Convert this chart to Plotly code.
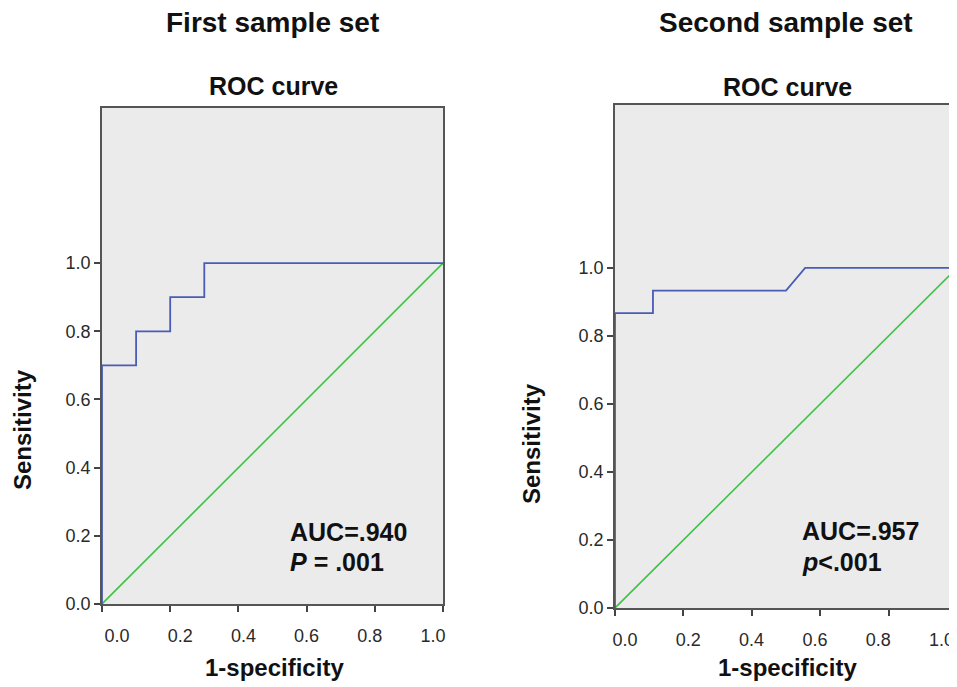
import plotly.graph_objects as go

# ---- data ----
fpr1 = [0.0, 0.0, 0.1, 0.1, 0.2, 0.2, 0.3, 0.3, 1.0]
tpr1 = [0.0, 0.7, 0.7, 0.8, 0.8, 0.9, 0.9, 1.0, 1.0]
fpr2 = [0.0, 0.0, 0.111, 0.111, 0.5, 0.556, 1.0]
tpr2 = [0.0, 0.867, 0.867, 0.933, 0.933, 1.0, 1.0]
ref_line = [0.0, 1.0]
tick_vals = [0.0, 0.2, 0.4, 0.6, 0.8, 1.0]
tick_text = ["0.0", "0.2", "0.4", "0.6", "0.8", "1.0"]
panel_titles = ["First sample set", "Second sample set"]
auc_text = ["AUC=.940", "AUC=.957"]
p_text = ["<i>P</i> = .001", "<i>p</i>&lt;.001"]

OFF = 8  # page body margin
W, H = 957 - 2 * OFF, 687
BLUE = "#4a5cb6"
GREEN = "#3fc246"
FONT = "Liberation Sans, Arial, sans-serif"

def px(x):
    return min(1.0, (x - OFF) / W)

def py(y):
    return 1 - (y - OFF) / H

fig = go.Figure()
fig.add_trace(go.Scatter(x=ref_line, y=ref_line, mode="lines",
                         line=dict(color=GREEN, width=1.6), xaxis="x", yaxis="y", hoverinfo="skip"))
fig.add_trace(go.Scatter(x=fpr1, y=tpr1, mode="lines",
                         line=dict(color=BLUE, width=1.8), xaxis="x", yaxis="y"))
fig.add_trace(go.Scatter(x=ref_line, y=ref_line, mode="lines",
                         line=dict(color=GREEN, width=1.6), xaxis="x2", yaxis="y2", hoverinfo="skip"))
fig.add_trace(go.Scatter(x=fpr2, y=tpr2, mode="lines",
                         line=dict(color=BLUE, width=1.8), xaxis="x2", yaxis="y2"))
# invisible carriers for the tick-label axes
fig.add_trace(go.Scatter(x=tick_vals, y=[0] * len(tick_vals), mode="markers", opacity=0,
                         xaxis="x3", yaxis="y", hoverinfo="skip"))
fig.add_trace(go.Scatter(x=tick_vals, y=[0] * len(tick_vals), mode="markers", opacity=0,
                         xaxis="x4", yaxis="y2", hoverinfo="skip"))

tickfont = dict(family=FONT, size=18, color="#2a2a2a")
axis_common = dict(showgrid=False, zeroline=False, showline=True, linecolor="#555555",
                   linewidth=1.5, mirror=True, ticks="outside", ticklen=6, tickwidth=1.5,
                   tickcolor="#444444", tickvals=tick_vals, ticktext=tick_text, automargin=False,
                   tickfont=tickfont, fixedrange=True)
xtick_only = dict(axis_common, showticklabels=False)
label_axis = dict(showgrid=False, zeroline=False, showline=False, ticks="",
                  tickvals=tick_vals, ticktext=tick_text, automargin=False, tickfont=tickfont,
                  fixedrange=True, ticklabelstandoff=19, ticklabeloverflow="allow", side="bottom")

# right panel runs past the window edge: x = 1.0 would sit at 957 px
r_left, r_right_vis, r_one = 615, 949, 957
r_span = (r_right_vis - r_left) / (r_one - r_left)

fig.update_layout(
    width=W, height=H,
    margin=dict(l=0, r=0, t=0, b=0, autoexpand=False),
    paper_bgcolor="white",
    plot_bgcolor="#ebebeb",
    showlegend=False,
    xaxis=dict(domain=[px(102), px(443)], range=[0, 1], anchor="y", **xtick_only),
    yaxis=dict(domain=[py(604), py(108)], range=[0, 1.455], anchor="x", **axis_common),
    xaxis2=dict(domain=[px(r_left), px(r_right_vis)], range=[0, r_span], anchor="y2", **xtick_only),
    yaxis2=dict(domain=[py(608), py(105)], range=[0, 1.479], anchor="x2",
                **dict(axis_common, mirror=False)),
    xaxis3=dict(domain=[px(102), px(443)], range=[-0.0475, 1.0316], anchor="y",
                overlaying="x", **label_axis),
    xaxis4=dict(domain=[px(r_left), px(r_right_vis)], range=[-0.0316, 1.0237], anchor="y2",
                overlaying="x2", **label_axis),
)

ann = []
def add(text, x, y, size, xanchor="center", angle=0):
    ann.append(dict(text=text, x=px(x), y=py(y), xref="paper", yref="paper",
                    xanchor=xanchor, yanchor="middle", showarrow=False, textangle=angle,
                    font=dict(family=FONT, size=size, color="#111111")))

# panel titles
add("<b>%s</b>" % panel_titles[0], 272, 22, 28)
add("<b>%s</b>" % panel_titles[1], 786, 22, 28)
add("<b>ROC curve</b>", 273, 86, 25)
add("<b>ROC curve</b>", 787, 87, 25)
# axis titles
add("<b>Sensitivity</b>", 23, 430, 24, angle=-90)
add("<b>Sensitivity</b>", 531, 444, 24, angle=-90)
add("<b>1-specificity</b>", 274, 667, 24)
add("<b>1-specificity</b>", 787, 667, 24)
# AUC annotations
add("<b>%s</b>" % auc_text[0], 288, 532, 25, xanchor="left")
add("<b>%s</b>" % p_text[0], 288, 562, 25, xanchor="left")
add("<b>%s</b>" % auc_text[1], 800, 531, 25, xanchor="left")
add("<b>%s</b>" % p_text[1], 800, 562, 25, xanchor="left")

fig.update_layout(annotations=ann)
fig.write_html("out.html")
